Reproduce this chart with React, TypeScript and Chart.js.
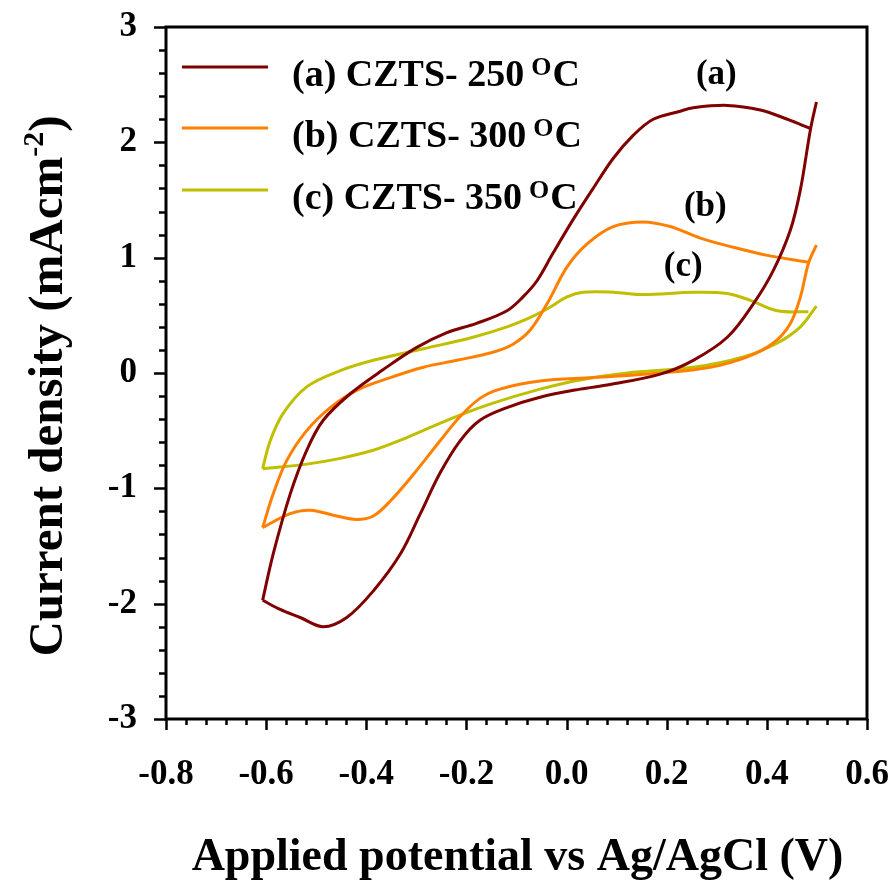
import React, { useEffect, useRef } from "react";
import { Chart, registerables } from "chart.js";

Chart.register(...registerables);

const FONT = "'Liberation Serif', 'Times New Roman', Times, serif";

// Axis ranges and ticks
const xRange = [-0.8, 0.6];
const yRange = [-3, 3];
const xMajorStep = 0.2;
const xMinorStep = 0.04;
const yMajorStep = 1;
const yMinorStep = 0.2;

const xTitle = "Applied potential vs Ag/AgCl (V)";
const yTitleMain = "Current density (mAcm";
const yTitleSup = "-2";
const yTitleEnd = ")";

// Series
const seriesLabels = ["(a) CZTS- 250", "(b) CZTS- 300", "(c) CZTS- 350"];
const seriesColors = ["#800000", "#FF8000", "#BFBF00"];
const curveTags = ["(a)", "(b)", "(c)"];
// annotation anchor positions in data units [x, y]
const curveTagPos: [number, number][] = [
  [0.299, 2.51],
  [0.277, 1.36],
  [0.233, 0.84],
];

// (a) 250 °C : reverse sweep (from +0.5 V down to -0.61 V), then forward sweep
const aReverse: [number, number][] = [
  [0.499, 2.35], [0.487, 2.11], [0.467, 1.59], [0.447, 1.24], [0.413, 0.89],
  [0.373, 0.6], [0.321, 0.31], [0.253, 0.11], [0.187, -0.01], [0.087, -0.1],
  [0.027, -0.14], [-0.053, -0.21], [-0.119, -0.3], [-0.173, -0.41], [-0.213, -0.59],
  [-0.253, -0.87], [-0.292, -1.22], [-0.332, -1.57], [-0.386, -1.89], [-0.439, -2.12],
  [-0.486, -2.2], [-0.532, -2.12], [-0.572, -2.05], [-0.607, -1.97],
];
const aForward: [number, number][] = [
  [-0.607, -1.97], [-0.586, -1.57], [-0.552, -1.05], [-0.519, -0.67], [-0.486, -0.41],
  [-0.432, -0.18], [-0.366, 0.03], [-0.3, 0.22], [-0.239, 0.35], [-0.18, 0.43],
  [-0.119, 0.54], [-0.087, 0.66], [-0.059, 0.8], [-0.027, 1.04], [0.013, 1.33],
  [0.053, 1.6], [0.093, 1.86], [0.133, 2.06], [0.173, 2.2], [0.227, 2.27],
  [0.253, 2.3], [0.321, 2.32], [0.387, 2.28], [0.441, 2.2], [0.487, 2.12],
];

// (b) 300 °C
const bReverse: [number, number][] = [
  [0.499, 1.11], [0.483, 0.95], [0.467, 0.66], [0.447, 0.43], [0.413, 0.26],
  [0.361, 0.14], [0.287, 0.05], [0.187, 0.0], [0.053, -0.04], [-0.053, -0.07],
  [-0.133, -0.14], [-0.173, -0.22], [-0.213, -0.38], [-0.253, -0.59], [-0.306, -0.88],
  [-0.352, -1.11], [-0.386, -1.24], [-0.419, -1.27], [-0.459, -1.24], [-0.512, -1.19],
  [-0.552, -1.22], [-0.607, -1.34],
];
const bForward: [number, number][] = [
  [-0.607, -1.34], [-0.586, -1.05], [-0.559, -0.76], [-0.519, -0.5], [-0.472, -0.3],
  [-0.419, -0.15], [-0.352, -0.04], [-0.286, 0.05], [-0.219, 0.11], [-0.147, 0.18],
  [-0.107, 0.25], [-0.073, 0.37], [-0.039, 0.6], [0.001, 0.92], [0.041, 1.12],
  [0.093, 1.27], [0.153, 1.31], [0.207, 1.27], [0.267, 1.17], [0.333, 1.09],
  [0.401, 1.02], [0.483, 0.96],
];

// (c) 350 °C
const cReverse: [number, number][] = [
  [0.499, 0.58], [0.467, 0.4], [0.421, 0.26], [0.353, 0.14], [0.253, 0.05],
  [0.121, 0.0], [0.027, -0.06], [-0.053, -0.14], [-0.153, -0.27], [-0.239, -0.41],
  [-0.319, -0.56], [-0.386, -0.67], [-0.452, -0.74], [-0.519, -0.79], [-0.607, -0.83],
];
const cForward: [number, number][] = [
  [-0.607, -0.83], [-0.592, -0.59], [-0.566, -0.35], [-0.519, -0.12], [-0.452, 0.02],
  [-0.386, 0.11], [-0.286, 0.21], [-0.187, 0.31], [-0.119, 0.4], [-0.073, 0.48],
  [-0.033, 0.57], [0.001, 0.66], [0.033, 0.7], [0.093, 0.7], [0.153, 0.68],
  [0.253, 0.7], [0.321, 0.69], [0.367, 0.63], [0.421, 0.54], [0.483, 0.53],
];

const segments: { series: number; pts: [number, number][] }[] = [
  { series: 0, pts: aReverse },
  { series: 0, pts: aForward },
  { series: 1, pts: bReverse },
  { series: 1, pts: bForward },
  { series: 2, pts: cReverse },
  { series: 2, pts: cForward },
];

const decorPlugin = {
  id: "decor",
  afterDatasetsDraw(chart: any) {
    const ctx: CanvasRenderingContext2D = chart.ctx;
    const { left, right, top, bottom } = chart.chartArea;
    const xs = chart.scales.x;
    const ys = chart.scales.y;
    ctx.save();
    ctx.strokeStyle = "#000";
    ctx.lineWidth = 3;
    ctx.strokeRect(left, top, right - left, bottom - top);
    // tick marks
    ctx.lineWidth = 2.5;
    ctx.beginPath();
    const nx = Math.round((xRange[1] - xRange[0]) / xMinorStep);
    const ratioX = Math.round(xMajorStep / xMinorStep);
    for (let i = 0; i <= nx; i++) {
      const v = xRange[0] + i * xMinorStep;
      const px = Math.round(xs.getPixelForValue(v)) + 0.5;
      const len = i % ratioX === 0 ? 11 : 6;
      ctx.moveTo(px, bottom);
      ctx.lineTo(px, bottom + len);
    }
    const ny = Math.round((yRange[1] - yRange[0]) / yMinorStep);
    const ratioY = Math.round(yMajorStep / yMinorStep);
    for (let i = 0; i <= ny; i++) {
      const v = yRange[0] + i * yMinorStep;
      const py = Math.round(ys.getPixelForValue(v)) + 0.5;
      const len = i % ratioY === 0 ? 12 : 7;
      ctx.moveTo(left, py);
      ctx.lineTo(left - len, py);
    }
    ctx.stroke();
    ctx.restore();
  },
  afterDraw(chart: any) {
    const ctx: CanvasRenderingContext2D = chart.ctx;
    const { left } = chart.chartArea;
    const xs = chart.scales.x;
    const ys = chart.scales.y;
    ctx.save();
    ctx.fillStyle = "#000";
    ctx.textBaseline = "alphabetic";

    // Legend
    const rowY = [67, 128, 190];
    seriesLabels.forEach((lab, i) => {
      const ly = rowY[i];
      ctx.strokeStyle = seriesColors[i];
      ctx.lineWidth = 3;
      ctx.beginPath();
      ctx.moveTo(left + 16, ly);
      ctx.lineTo(left + 102, ly);
      ctx.stroke();
      const base = ly + 19;
      let tx = left + 126;
      ctx.textAlign = "left";
      ctx.font = `bold 38px ${FONT}`;
      ctx.fillText(lab, tx, base);
      tx += ctx.measureText(lab).width + 7;
      ctx.font = `bold 26px ${FONT}`;
      ctx.fillText("O", tx, base - 11);
      tx += ctx.measureText("O").width + 1;
      ctx.font = `bold 38px ${FONT}`;
      ctx.fillText("C", tx, base);
    });

    // Curve tags
    ctx.textAlign = "center";
    ctx.font = `bold 35px ${FONT}`;
    curveTags.forEach((t, i) => {
      const [vx, vy] = curveTagPos[i];
      ctx.fillText(t, xs.getPixelForValue(vx), ys.getPixelForValue(vy));
    });

    // X title
    ctx.font = `bold 46px ${FONT}`;
    ctx.textAlign = "center";
    const xc = (chart.chartArea.left + chart.chartArea.right) / 2;
    ctx.fillText(xTitle, xc + 1, 870);

    // Y title (rotated)
    ctx.translate(62, 386);
    ctx.rotate(-Math.PI / 2);
    ctx.textAlign = "left";
    ctx.font = `bold 49px ${FONT}`;
    const w1 = ctx.measureText(yTitleMain).width;
    const w3 = ctx.measureText(yTitleEnd).width;
    ctx.font = `bold 30px ${FONT}`;
    const w2 = ctx.measureText(yTitleSup).width;
    let sx = -(w1 + w2 + w3) / 2;
    ctx.font = `bold 49px ${FONT}`;
    ctx.fillText(yTitleMain, sx, 0);
    sx += w1;
    ctx.font = `bold 30px ${FONT}`;
    ctx.fillText(yTitleSup, sx, -19);
    sx += w2;
    ctx.font = `bold 49px ${FONT}`;
    ctx.fillText(yTitleEnd, sx, 0);
    ctx.restore();
  },
};

export default function App() {
  const ref = useRef<HTMLCanvasElement | null>(null);
  useEffect(() => {
    if (!ref.current) return;
    const chart = new Chart(ref.current, {
      type: "scatter",
      data: {
        datasets: segments.map((s) => ({
          data: s.pts.map(([x, y]) => ({ x, y })),
          showLine: true,
          borderColor: seriesColors[s.series],
          backgroundColor: seriesColors[s.series],
          borderWidth: 3,
          pointRadius: 0,
          tension: 0.35,
          fill: false,
        })),
      },
      options: {
        animation: false,
        responsive: true,
        maintainAspectRatio: false,
        layout: { padding: { top: 27, right: 29, left: 0, bottom: 0 } },
        plugins: {
          legend: { display: false },
          tooltip: { enabled: false },
        },
        scales: {
          x: {
            type: "linear",
            position: "bottom",
            min: xRange[0],
            max: xRange[1],
            grid: { display: false, drawTicks: false },
            border: { display: false },
            ticks: {
              stepSize: xMajorStep,
              padding: 35,
              color: "#000",
              font: { family: FONT, size: 35, weight: "bold" },
              callback: (v: any) => {
                const n = Number(v);
                return Math.abs(n) < 1e-9 ? "0.0" : n.toFixed(1);
              },
              maxRotation: 0,
              autoSkip: false,
            },
            afterFit: (scale: any) => {
              scale.height = 165;
              scale.paddingLeft = 0;
              scale.paddingRight = 0;
              scale.paddingTop = 0;
              scale.paddingBottom = 0;
            },
          },
          y: {
            type: "linear",
            min: yRange[0],
            max: yRange[1],
            grid: { display: false, drawTicks: false },
            border: { display: false },
            ticks: {
              stepSize: yMajorStep,
              padding: 29,
              color: "#000",
              font: { family: FONT, size: 35, weight: "bold" },
              callback: (v: any) => String(Math.round(Number(v))),
              autoSkip: false,
            },
            afterFit: (scale: any) => {
              scale.width = 166;
              scale.paddingLeft = 0;
              scale.paddingRight = 0;
              scale.paddingTop = 0;
              scale.paddingBottom = 0;
            },
          },
        },
      },
      plugins: [decorPlugin],
    });
    return () => chart.destroy();
  }, []);
  return (
    <div style={{ position: "fixed", left: 0, top: 0, width: 896, height: 884, background: "#fff" }}>
      <canvas ref={ref} />
    </div>
  );
}
